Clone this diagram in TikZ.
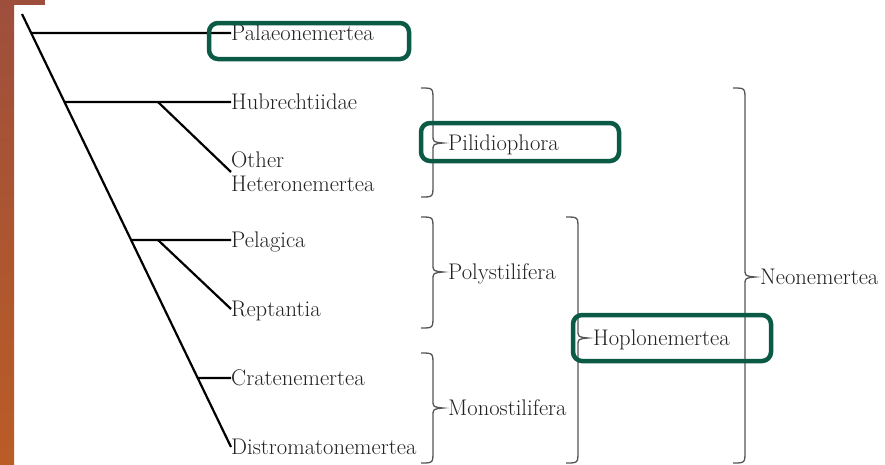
\documentclass[tikz,border=0pt]{standalone}
\usetikzlibrary{calc}
\definecolor{boxgreen}{HTML}{0B5A46}
\definecolor{bracegray}{HTML}{555555}
\definecolor{stripA}{HTML}{9E4F3C}
\definecolor{stripB}{HTML}{BA5C26}
\definecolor{txt}{HTML}{222222}
\tikzset{
  leaf/.style={anchor=west,inner sep=0pt,text=txt,font=\fontsize{22.6}{24}\selectfont,text height=15pt,text depth=0pt},
  leaftwo/.style={anchor=west,inner sep=0pt,text=txt,font=\fontsize{22.6}{24}\selectfont,align=left},
  grp/.style={anchor=west,inner sep=0pt,text=txt,font=\fontsize{22.6}{24}\selectfont,text height=15pt,text depth=0pt},
  branch/.style={line width=2.2pt,black},
  bracestyle/.style={line width=1.3pt,bracegray},
  hibox/.style={line width=4.5pt,boxgreen,rounded corners=9pt}
}
\newcommand\mybrace[4]{%
  \draw[bracestyle] (#1-12,#2) .. controls (#1,#2) .. (#1,#2+12) -- (#1,#4-8)
    .. controls (#1,#4-1) .. (#1+10,#4) .. controls (#1,#4+1) .. (#1,#4+8)
    -- (#1,#3-12) .. controls (#1,#3) .. (#1-12,#3);}
\begin{document}
\begin{tikzpicture}[x=1pt,y=-1pt]
\fill[white] (0,0) rectangle (885,464);
\useasboundingbox (0,0) rectangle (885,464);
% left decorative strip
\shade[top color=stripA,bottom color=stripB] (0,0) rectangle (14,464);
\fill[stripA] (0,0) rectangle (45,5);

% leaves
\node[leaf] (pal) at (231,33) {Palaeonemertea};
\node[leaf] (hub) at (231,102) {Hubrechtiidae};
\node[leaftwo] (oth) at (231,172) {Other\\Heteronemertea};
\node[leaf] (pel) at (231,240) {Pelagica};
\node[leaf] (rep) at (231,309) {Reptantia};
\node[leaf] (cra) at (231,378) {Cratenemertea};
\node[leaf] (dis) at (231,447) {Distromatonemertea};

% tree
\coordinate (root) at (22,14);
\draw[branch] (root) -- (dis.west);
\coordinate (t1) at ($(root)!{(33-14)/(447-14)}!(dis.west)$);
\coordinate (t2) at ($(root)!{(102-14)/(447-14)}!(dis.west)$);
\coordinate (t3) at ($(root)!{(240-14)/(447-14)}!(dis.west)$);
\coordinate (t4) at ($(root)!{(378-14)/(447-14)}!(dis.west)$);
\draw[branch] (t1) -- (pal.west);
\draw[branch] (t2) -- (hub.west);
\draw[branch] (t3) -- (pel.west);
\draw[branch] (t4) -- (cra.west);
\coordinate (s1) at (158,102);
\coordinate (s2) at (158,240);
\draw[branch] (s1) -- (oth.west);
\draw[branch] (s2) -- (rep.west);

% braces
\mybrace{433}{88}{197}{143}
\mybrace{433}{217}{328}{272}
\mybrace{433}{353}{463}{408}
\mybrace{578}{217}{463}{338}
\mybrace{745}{88}{463}{277}

% group labels
\node[grp] (pil) at (448,143) {Pilidiophora};
\node[grp] (pol) at (448,272) {Polystilifera};
\node[grp] (mon) at (448,408) {Monostilifera};
\node[grp] (hop) at (593,338) {Hoplonemertea};
\node[grp] (neo) at (760,277) {Neonemertea};

% highlight boxes
\draw[hibox] (209,23) rectangle (409,59);
\draw[hibox] (421,123) rectangle (619,161);
\draw[hibox] (573,315) rectangle (771,361);
\end{tikzpicture}
\end{document}
